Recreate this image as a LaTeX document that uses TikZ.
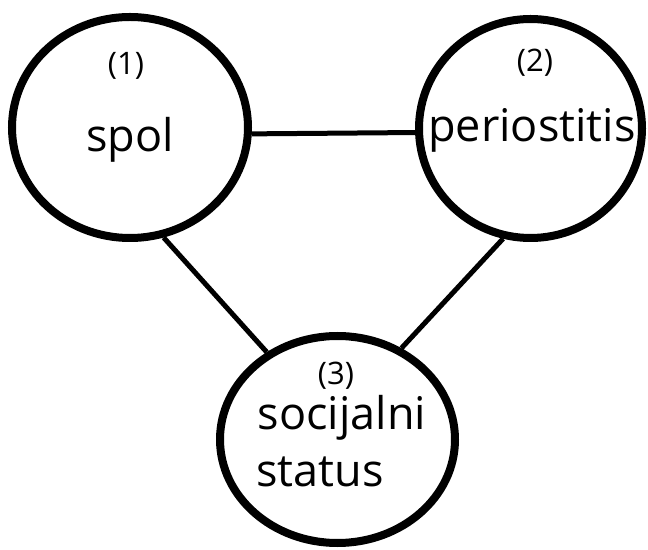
\documentclass[tikz,border=0pt]{standalone}
\usepackage{fontspec}
\setmainfont{Open Sans}
\usetikzlibrary{shapes.geometric}
\begin{document}
\begin{tikzpicture}[x=1pt,y=1pt,
  blob/.style={draw=black,line width=8pt,ellipse,inner sep=0pt},
  link/.style={draw=black,line width=5pt},
  big/.style={font=\fontsize{45}{54}\selectfont,inner sep=0pt,anchor=base},
  small/.style={font=\fontsize{31}{36}\selectfont,inner sep=0pt}]
\useasboundingbox (0,0) rectangle (648,549);
\fill[white] (0,0) rectangle (648,549);
\node[blob,minimum width=236pt,minimum height=221pt] (c1) at (130,421.5) {};
\node[blob,minimum width=223pt,minimum height=219pt] (c2) at (530.5,420.5) {};
\node[blob,minimum width=235pt,minimum height=207pt] (c3) at (337.5,109.5) {};
\draw[link] (c1.-3) -- (c2.182.7);
\draw[link] (c1.-73) -- (c3.129.5);
\draw[link] (c2.-104) -- (c3.55.8);
\node[small] (n1) at (126,483) {(1)};
\node[big] (t1) at (130,397) {spol};
\node[small] (n2) at (535,486) {(2)};
\node[big] (t2) at (532,407) {periostitis};
\node[small] (n3) at (336,173) {(3)};
\node[big] (t3a) at (342,119) {socijalni};
\node[big] (t3b) at (320,62) {status};
\end{tikzpicture}
\end{document}
